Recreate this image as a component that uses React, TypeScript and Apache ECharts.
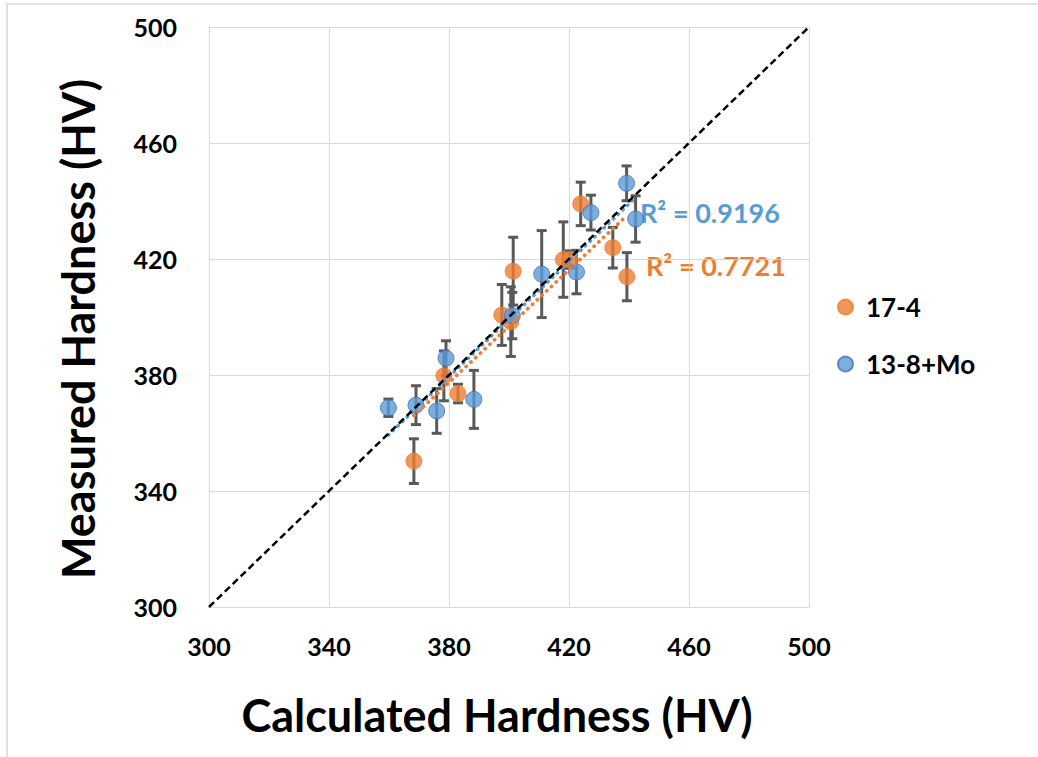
import React, { useEffect, useRef } from "react";
import * as echarts from "echarts";

const seriesNames = ["17-4", "13-8+Mo"];

// 17-4 (orange)
const orangeX = [368.3, 378.3, 383.0, 397.6, 400.6, 401.4, 418.1, 420.3, 423.9, 434.6, 439.3];
const orangeY = [350.3, 379.7, 373.6, 400.7, 398.4, 415.8, 419.8, 419.8, 439.0, 423.9, 413.9];
const orangeErr = [7.7, 8.6, 3.2, 10.5, 12, 11.7, 13, 3, 7.5, 7, 8.3];

// 13-8+Mo (blue)
const blueX = [359.8, 369.0, 375.9, 379.0, 388.3, 401.1, 410.9, 422.5, 427.3, 439.2, 442.2];
const blueY = [368.7, 369.6, 367.6, 385.8, 371.6, 400.5, 414.8, 415.5, 436.0, 446.1, 433.8];
const blueErr = [3, 6.7, 7.7, 6, 10, 8, 15, 7.5, 6, 6, 8];

// trendline endpoints
const orangeTrend = [[368.3, 366.0], [439.3, 435.0]];
const blueTrend = [[359.8, 359.3], [441.5, 440.5]];
const diagonal = [[300, 300], [500, 500]];

const r2Labels = ["R\u00B2 = 0.7721", "R\u00B2 = 0.9196"];

const axisMin = 300;
const axisMax = 500;
const axisStep = 40;

const ORANGE = "#ED7D31";
const BLUE = "#5B9BD5";
const FONT = "Lato";

function errorSeries(xs: number[], ys: number[], errs: number[]) {
  const data = xs.map((x, i) => [x, ys[i] - errs[i], ys[i] + errs[i]]);
  return {
    type: "custom",
    silent: true,
    z: 2,
    data,
    renderItem: (params: any, api: any) => {
      const x = api.value(0);
      const lo = api.coord([x, api.value(1)]);
      const hi = api.coord([x, api.value(2)]);
      const w = 5;
      const style = { stroke: "#595959", lineWidth: 3 };
      return {
        type: "group",
        children: [
          { type: "line", shape: { x1: lo[0], y1: lo[1], x2: hi[0], y2: hi[1] }, style },
          { type: "line", shape: { x1: lo[0] - w, y1: lo[1], x2: lo[0] + w, y2: lo[1] }, style },
          { type: "line", shape: { x1: hi[0] - w, y1: hi[1], x2: hi[0] + w, y2: hi[1] }, style },
        ],
      };
    },
  };
}

export default function App() {
  const ref = useRef<HTMLDivElement>(null);
  useEffect(() => {
    document.body.style.margin = "0";
    const chart = echarts.init(ref.current!, null, { renderer: "svg" });
    const axisCommon = {
      type: "value",
      min: axisMin,
      max: axisMax,
      interval: axisStep,
      splitLine: { show: true, lineStyle: { color: "#d9d9d9", width: 1 } },
      axisLine: { show: true, lineStyle: { color: "#d9d9d9", width: 1 } },
      axisTick: { show: false },
      nameLocation: "middle",
    };
    const nameStyle = { fontFamily: FONT, fontWeight: "bold", fontSize: 45, color: "#000", padding: [0, 24, 0, 0] };
    chart.setOption({
      animation: false,
      backgroundColor: "#fff",
      grid: { left: 209, top: 27, width: 600, height: 580 },
      xAxis: {
        ...axisCommon,
        name: "Calculated Hardness (HV)",
        nameGap: 85,
        nameTextStyle: nameStyle,
        axisLabel: { margin: 26, fontFamily: FONT, fontWeight: "bold", fontSize: 25, color: "#000" },
      },
      yAxis: {
        ...axisCommon,
        name: "Measured Hardness (HV)",
        nameGap: 109,
        nameTextStyle: nameStyle,
        axisLabel: { margin: 32, fontFamily: FONT, fontWeight: "bold", fontSize: 25, color: "#000" },
      },
      legend: {
        data: seriesNames,
        orient: "vertical",
        left: 832,
        top: 289,
        itemGap: 31,
        icon: "circle",
        itemWidth: 15,
        itemHeight: 15,
        textStyle: { fontFamily: FONT, fontWeight: "bold", fontSize: 26, color: "#000", padding: [0, 0, 0, 8] },
      },
      graphic: [
        {
          type: "rect",
          shape: { x: 7, y: 4, width: 1060, height: 800 },
          style: { fill: "none", stroke: "#d9d9d9", lineWidth: 1.5 },
          silent: true,
        },
        {
          type: "text",
          left: 640,
          top: 199,
          style: { text: r2Labels[1], fill: BLUE, font: `bold 27px ${FONT}` },
        },
        {
          type: "text",
          left: 646,
          top: 252,
          style: { text: r2Labels[0], fill: ORANGE, font: `bold 27px ${FONT}` },
        },
      ],
      series: [
        errorSeries(orangeX, orangeY, orangeErr),
        {
          name: seriesNames[0],
          type: "scatter",
          z: 3,
          symbolSize: 16,
          itemStyle: { color: ORANGE, borderColor: ORANGE, borderWidth: 1 },
          data: orangeX.map((x, i) => [x, orangeY[i]]),
        },
        errorSeries(blueX, blueY, blueErr),
        {
          name: seriesNames[1],
          type: "scatter",
          z: 4,
          symbolSize: 16,
          itemStyle: { color: BLUE, borderColor: "#4472C4", borderWidth: 1 },
          data: blueX.map((x, i) => [x, blueY[i]]),
        },
        {
          type: "line",
          z: 5,
          silent: true,
          symbol: "none",
          data: orangeTrend,
          lineStyle: { color: ORANGE, width: 3.5, type: [0.5, 6], cap: "round" },
        },
        {
          type: "line",
          z: 5,
          silent: true,
          symbol: "none",
          data: blueTrend,
          lineStyle: { color: BLUE, width: 3.5, type: [0.5, 6], cap: "round" },
        },
        {
          type: "line",
          z: 6,
          silent: true,
          symbol: "none",
          data: diagonal,
          lineStyle: { color: "#000", width: 2.5, type: [7, 4] },
        },
      ],
    });
    return () => chart.dispose();
  }, []);
  return <div ref={ref} style={{ width: 1038, height: 757 }} />;
}
